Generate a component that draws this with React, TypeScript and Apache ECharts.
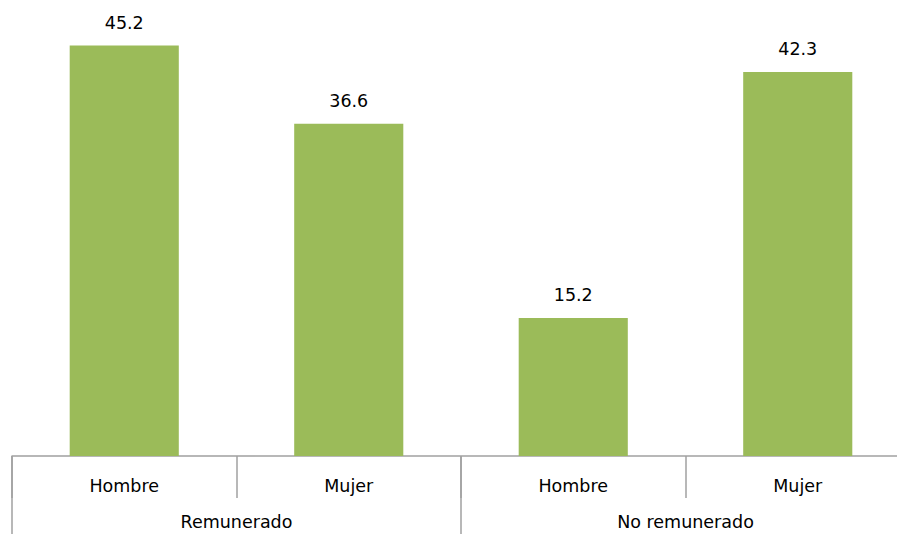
import React, { useEffect, useRef } from "react";
import * as echarts from "echarts";

const categories = ["Hombre", "Mujer", "Hombre", "Mujer"];
const groups = ["Remunerado", "No remunerado"];
const values = [45.2, 36.6, 15.2, 42.3];

export default function App() {
  const ref = useRef<HTMLDivElement>(null);
  useEffect(() => {
    if (!ref.current) return;
    const chart = echarts.init(ref.current, null, { renderer: "svg" });
    const font = "DejaVu Sans";
    chart.setOption({
      animation: false,
      backgroundColor: "#ffffff",
      grid: { left: 12, top: 2, right: 1, bottom: 78, containLabel: false },
      xAxis: [
        {
          type: "category",
          data: categories,
          position: "bottom",
          axisLine: { show: true, lineStyle: { color: "#a0a0a0", width: 1.5 } },
          axisTick: { show: true, interval: 0, length: 42, lineStyle: { color: "#a0a0a0", width: 1.5 } },
          axisLabel: { interval: 0, margin: 21, color: "#000000", fontSize: 17.5, fontFamily: font },
        },
        {
          type: "category",
          data: groups,
          position: "bottom",
          axisLine: { show: false },
          axisTick: { show: true, interval: 0, length: 80, lineStyle: { color: "#a0a0a0", width: 1.5 } },
          axisLabel: { interval: 0, margin: 57, color: "#000000", fontSize: 17.5, fontFamily: font },
        },
      ],
      yAxis: {
        type: "value",
        min: 0,
        max: 50,
        show: false,
        splitLine: { show: false },
      },
      series: [
        {
          type: "bar",
          xAxisIndex: 0,
          data: values,
          barWidth: "48.6%",
          itemStyle: { color: "#9bbb59" },
          label: {
            show: true,
            position: "top",
            distance: 14,
            color: "#000000",
            fontSize: 17.5,
            fontFamily: font,
            formatter: (p: any) => p.value.toFixed(1),
          },
        },
      ],
    });
    return () => chart.dispose();
  }, []);
  return (
    <div style={{ position: "absolute", left: 0, top: 0, width: 897, height: 534, overflow: "hidden", background: "#fff" }}>
      <div ref={ref} style={{ width: 911, height: 534 }} />
    </div>
  );
}
